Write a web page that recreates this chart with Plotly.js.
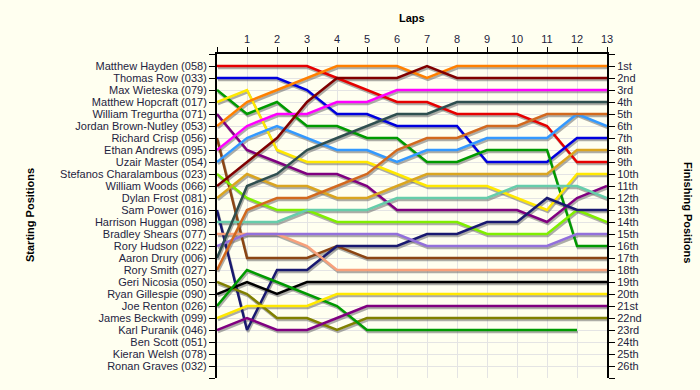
<!DOCTYPE html>
<html>
<head>
<meta charset="utf-8">
<script src="https://cdn.plot.ly/plotly-3.0.1.min.js"></script>
<style>
html,body{margin:0;padding:0;background:#fffff0;}
#chart{width:700px;height:390px;}
</style>
</head>
<body>
<div id="chart"></div>
<script>
const laps = [0,1,2,3,4,5,6,7,8,9,10,11,12,13];

const drivers = [
  "Matthew Hayden (058)", "Thomas Row (033)", "Max Wieteska (079)", "Matthew Hopcraft (017)",
  "William Tregurtha (071)", "Jordan Brown-Nutley (053)", "Richard Crisp (056)", "Ethan Andrews (095)",
  "Uzair Master (054)", "Stefanos Charalambous (023)", "William Woods (066)", "Dylan Frost (081)",
  "Sam Power (016)", "Harrison Huggan (098)", "Bradley Shears (077)", "Rory Hudson (022)",
  "Aaron Drury (006)", "Rory Smith (027)", "Geri Nicosia (050)", "Ryan Gillespie (090)",
  "Joe Renton (026)", "James Beckwith (099)", "Karl Puranik (046)", "Ben Scott (051)",
  "Kieran Welsh (078)", "Ronan Graves (032)"
];

const finishLabels = ["1st","2nd","3rd","4th","5th","6th","7th","8th","9th","10th","11th","12th","13th",
  "14th","15th","16th","17th","18th","19th","20th","21st","22nd","23rd","24th","25th","26th"];

// positions per lap (lap 0 = starting position)
const hayden       = [1,1,1,1,2,3,4,4,5,5,5,6,9,9];
const row          = [2,2,2,3,5,5,6,6,6,9,9,9,7,7];
const wieteska     = [3,5,4,6,6,7,7,9,9,8,8,8,16,16];
const hopcraft     = [4,3,8,9,9,9,10,11,11,11,12,13,10,10];
const tregurtha    = [5,8,9,10,10,11,13,13,13,13,13,14,12,11];
const brownNutley  = [6,4,3,2,1,1,1,2,1,1,1,1,1,1];
const crisp        = [7,17,17,17,16,17,17,17,17,17,17,17,17,17];
const andrews      = [8,6,5,5,4,4,3,3,3,3,3,3,3,3];
const master       = [9,7,6,7,8,8,9,8,8,7,7,7,5,6];
const charalambous = [10,12,13,13,14,14,14,14,14,15,15,15,13,14];
const woods        = [11,9,7,4,2,2,2,1,2,2,2,2,2,2];
const frost        = [12,10,11,11,12,12,11,10,10,10,10,10,8,8];
const power        = [13,23,18,18,16,16,16,15,15,14,14,12,13,13];
const huggan       = [14,14,14,13,13,13,12,12,12,12,11,11,11,12];
const shears       = [15,15,15,16,18,18,18,18,18,18,18,18,18,18];
const hudson       = [16,15,15,15,15,15,15,16,16,16,16,16,15,15];
const drury        = [17,11,10,8,7,6,5,5,4,4,4,4,4,4];
const smith        = [18,13,12,12,11,10,8,7,7,6,6,5,5,5];
const nicosia      = [19,20,22,22,23,22,22,22,22,22,22,22,22,22];
const gillespie    = [20,19,20,19,19,19,19,19,19,19,19,19,19,19];
const renton       = [21,18,19,20,21,23,23,23,23,23,23,23,23];
const beckwith     = [22,21,21,21,20,20,20,20,20,20,20,20,20,20];
const puranik      = [23,22,23,23,22,21,21,21,21,21,21,21,21,21];

const series = [hayden,row,wieteska,hopcraft,tregurtha,brownNutley,crisp,andrews,master,
  charalambous,woods,frost,power,huggan,shears,hudson,drury,smith,nicosia,gillespie,renton,beckwith,puranik];

const colors = ["#e60000","#0000dd","#009a00","#ffe800","#800080","#ff8000","#8b4513","#ff00ff","#3399ff",
  "#80ee00","#800000","#daa520","#191970","#66cdaa","#f8a07a","#9370db","#2f4f4f","#d2691e",
  "#808000","#000000","#009a00","#ffe800","#800080"];

const traces = [];
traces.push({x:[0], y:[0], mode:'markers', marker:{opacity:0}, hoverinfo:'skip', showlegend:false, xaxis:'x', yaxis:'y'});
series.forEach((vals) => {
  traces.push({x: laps.slice(0, vals.length), y: vals, mode:'lines', xaxis:'x2', yaxis:'y2',
    line:{color:'rgba(105,105,105,0.55)', width:2.5}, hoverinfo:'skip', showlegend:false});
});
series.forEach((vals, i) => {
  traces.push({x: laps.slice(0, vals.length), y: vals, mode:'lines', xaxis:'x3', yaxis:'y3',
    name: drivers[i], line:{color: colors[i], width:2.5}, hoverinfo:'skip', showlegend:false});
});

const posTicks = [];
for (let p = 0; p <= 27; p++) posTicks.push(p);
const txtColor = '#1e2440';
const fnt = {family:'"Liberation Sans", Arial, sans-serif', size:11, color: txtColor};

const layout = {
  width:700, height:390,
  margin:{l:217, r:93, t:54, b:12, pad:0},
  paper_bgcolor:'#fffff0', plot_bgcolor:'#fffff0',
  showlegend:false,
  font: fnt,
  xaxis:{side:'top', range:[0,13], tickvals: laps, ticktext: laps.map(l => l === 0 ? '' : String(l)),
    showgrid:true, gridcolor:'#e4e4e4', gridwidth:1, zeroline:false, showline:true, linecolor:'#000', linewidth:2,
    ticks:'outside', ticklen:5, tickwidth:1, tickcolor:'#000', tickfont:fnt, fixedrange:true},
  yaxis:{range:[27,0], tickvals: posTicks, ticktext: [''].concat(drivers, ['']),
    showgrid:true, gridcolor:'#e4e4e4', gridwidth:1, zeroline:false, showline:true, linecolor:'#000', linewidth:2,
    ticks:'outside', ticklen:6, tickwidth:1, tickcolor:'#000', tickfont:fnt, fixedrange:true},
  xaxis2:{overlaying:'x', anchor:'y2', range:[-1/30, 13-1/30], visible:false, fixedrange:true},
  yaxis2:{overlaying:'y', anchor:'x2', range:[27-1/6, -1/6], visible:false, fixedrange:true},
  xaxis3:{overlaying:'x', anchor:'y3', range:[0,13], visible:false, fixedrange:true},
  yaxis3:{overlaying:'y', anchor:'x3', side:'right', range:[27,0], tickvals: posTicks,
    ticktext: [''].concat(finishLabels, ['']), showgrid:false, zeroline:false, showline:true,
    linecolor:'#000', linewidth:2, ticks:'outside', ticklen:6, tickwidth:1, tickcolor:'#000', tickfont:fnt, fixedrange:true},
  annotations:[
    {text:'<b>Laps</b>', xref:'paper', yref:'paper', x:0.5, y:(378-18)/324, xanchor:'center', yanchor:'middle',
      showarrow:false, font:{family:'"Liberation Sans", Arial, sans-serif', size:11, color:'#000'}},
    {text:'<b>Starting Positions</b>', xref:'paper', yref:'paper', x:(30-217)/390, y:(378-215)/324, textangle:-90,
      xanchor:'center', yanchor:'middle', showarrow:false, font:{family:'"Liberation Sans", Arial, sans-serif', size:11, color:'#000'}},
    {text:'<b>Finishing Positions</b>', xref:'paper', yref:'paper', x:(688-217)/390, y:(378-212)/324, textangle:90,
      xanchor:'center', yanchor:'middle', showarrow:false, font:{family:'"Liberation Sans", Arial, sans-serif', size:11, color:'#000'}}
  ]
};

Plotly.newPlot('chart', traces, layout, {displayModeBar:false, staticPlot:true});
</script>
</body>
</html>
